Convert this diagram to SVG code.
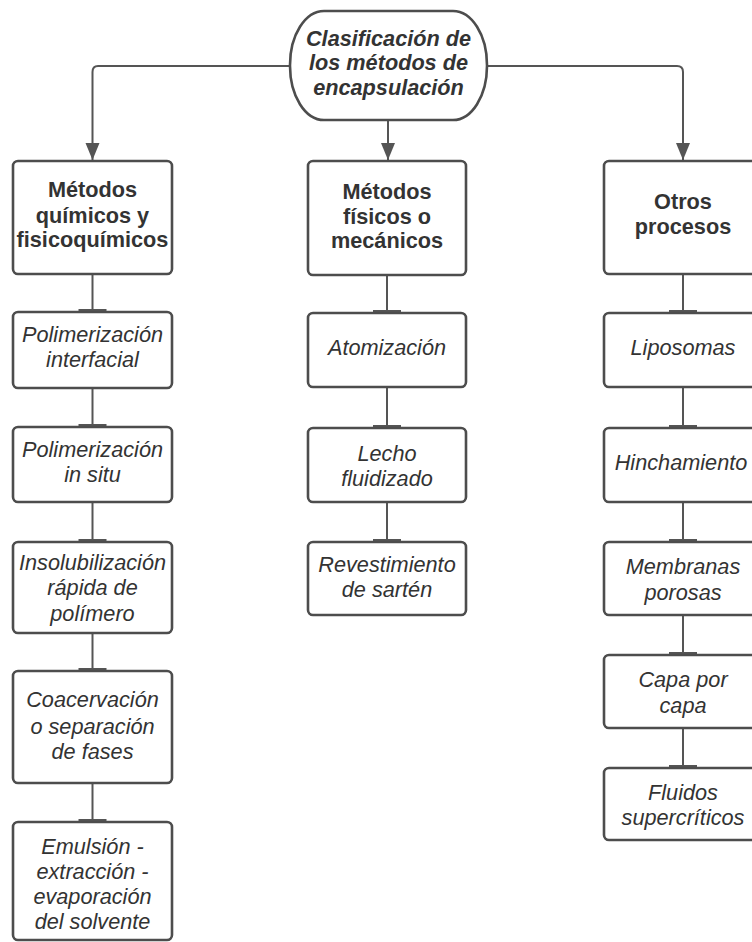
<svg xmlns="http://www.w3.org/2000/svg" width="752" height="942" viewBox="0 0 752 942">
<defs>
<style>
.box{fill:#fff;stroke:#4d4d4d;stroke-width:2.6}
.ln{fill:none;stroke:#555;stroke-width:2}
.t{font-family:"Liberation Sans",Arial,sans-serif;font-size:21.7px;fill:#333;text-anchor:middle}
.i{font-style:italic}
.b{font-weight:bold}
</style>
<marker id="arr" markerUnits="userSpaceOnUse" markerWidth="18" markerHeight="18" viewBox="0 0 18 18" refX="17" refY="9" orient="auto">
<path d="M0,2 L17,9 L0,16 Z" fill="#555"/>
</marker>
<marker id="bar" markerUnits="userSpaceOnUse" markerWidth="6" markerHeight="32" viewBox="0 0 6 32" refX="3" refY="16" orient="auto">
<rect x="0" y="2" width="3.2" height="28" fill="#555"/>
</marker>
</defs>
<rect width="752" height="942" fill="#fff"/>
<g id="connectors">
<path class="ln" d="M290,66 H98 Q92.5,66 92.5,72 V160" marker-end="url(#arr)"/>
<path class="ln" d="M388,120 V160" marker-end="url(#arr)"/>
<path class="ln" d="M487,66 H677 Q683,66 683,72 V160" marker-end="url(#arr)"/>
<path class="ln" d="M92.5,274 V312" marker-end="url(#bar)"/>
<path class="ln" d="M92.5,388 V427" marker-end="url(#bar)"/>
<path class="ln" d="M92.5,502 V542" marker-end="url(#bar)"/>
<path class="ln" d="M92.5,633 V671" marker-end="url(#bar)"/>
<path class="ln" d="M92.5,783 V822" marker-end="url(#bar)"/>
<path class="ln" d="M387,275 V313" marker-end="url(#bar)"/>
<path class="ln" d="M387,387 V428" marker-end="url(#bar)"/>
<path class="ln" d="M387,502 V542" marker-end="url(#bar)"/>
<path class="ln" d="M683,274 V313" marker-end="url(#bar)"/>
<path class="ln" d="M683,387 V428" marker-end="url(#bar)"/>
<path class="ln" d="M683,502 V542" marker-end="url(#bar)"/>
<path class="ln" d="M683,615 V655" marker-end="url(#bar)"/>
<path class="ln" d="M683,728 V768" marker-end="url(#bar)"/>
</g>
<g id="root">
<rect class="box" x="290" y="11" width="197" height="109" rx="34" ry="54"/>
<text class="t i b" x="388.5" y="46">Clasificación de</text>
<text class="t i b" x="388.5" y="70">los métodos de</text>
<text class="t i b" x="388.5" y="95">encapsulación</text>
</g>
<g id="quimicos">
<rect class="box" x="13" y="161" width="159" height="113" rx="5"/>
<text class="t b" x="92.5" y="197">Métodos</text>
<text class="t b" x="92.5" y="223">químicos y</text>
<text class="t b" x="92.5" y="247">fisicoquímicos</text>
</g>
<g id="fisicos">
<rect class="box" x="308" y="161" width="158" height="114" rx="5"/>
<text class="t b" x="387" y="199">Métodos</text>
<text class="t b" x="387" y="224">físicos o</text>
<text class="t b" x="387" y="248">mecánicos</text>
</g>
<g id="otros">
<rect class="box" x="604" y="161" width="158" height="113" rx="5"/>
<text class="t b" x="683" y="209">Otros</text>
<text class="t b" x="683" y="234">procesos</text>
</g>
<g id="pol-interfacial">
<rect class="box" x="13" y="312" width="159" height="76" rx="5"/>
<text class="t i" x="92.5" y="342">Polimerización</text>
<text class="t i" x="92.5" y="367">interfacial</text>
</g>
<g id="pol-insitu">
<rect class="box" x="13" y="427" width="159" height="75" rx="5"/>
<text class="t i" x="92.5" y="457">Polimerización</text>
<text class="t i" x="92.5" y="482">in situ</text>
</g>
<g id="insolubilizacion">
<rect class="box" x="13" y="542" width="159" height="91" rx="5"/>
<text class="t i" x="92.5" y="570">Insolubilización</text>
<text class="t i" x="92.5" y="595">rápida de</text>
<text class="t i" x="92.5" y="621">polímero</text>
</g>
<g id="coacervacion">
<rect class="box" x="13" y="671" width="159" height="112" rx="5"/>
<text class="t i" x="92.5" y="707">Coacervación</text>
<text class="t i" x="92.5" y="734">o separación</text>
<text class="t i" x="92.5" y="759">de fases</text>
</g>
<g id="emulsion">
<rect class="box" x="13" y="822" width="159" height="118" rx="5"/>
<text class="t i" x="92.5" y="854">Emulsión -</text>
<text class="t i" x="92.5" y="879">extracción -</text>
<text class="t i" x="92.5" y="904">evaporación</text>
<text class="t i" x="92.5" y="929">del solvente</text>
</g>
<g id="atomizacion">
<rect class="box" x="308" y="313" width="158" height="74" rx="5"/>
<text class="t i" x="387" y="355">Atomización</text>
</g>
<g id="lecho">
<rect class="box" x="308" y="428" width="158" height="74" rx="5"/>
<text class="t i" x="387" y="461">Lecho</text>
<text class="t i" x="387" y="486">fluidizado</text>
</g>
<g id="revestimiento">
<rect class="box" x="308" y="542" width="158" height="73" rx="5"/>
<text class="t i" x="387" y="572">Revestimiento</text>
<text class="t i" x="387" y="597">de sartén</text>
</g>
<g id="liposomas">
<rect class="box" x="604" y="313" width="158" height="74" rx="5"/>
<text class="t i" x="683" y="355">Liposomas</text>
</g>
<g id="hinchamiento">
<rect class="box" x="604" y="428" width="158" height="74" rx="5"/>
<text class="t i" x="681" y="470">Hinchamiento</text>
</g>
<g id="membranas">
<rect class="box" x="604" y="542" width="158" height="73" rx="5"/>
<text class="t i" x="683" y="574">Membranas</text>
<text class="t i" x="683" y="600">porosas</text>
</g>
<g id="capa">
<rect class="box" x="604" y="655" width="158" height="73" rx="5"/>
<text class="t i" x="683" y="687">Capa por</text>
<text class="t i" x="683" y="713">capa</text>
</g>
<g id="fluidos">
<rect class="box" x="604" y="768" width="158" height="72" rx="5"/>
<text class="t i" x="683" y="800">Fluidos</text>
<text class="t i" x="683" y="825">supercríticos</text>
</g>
</svg>
